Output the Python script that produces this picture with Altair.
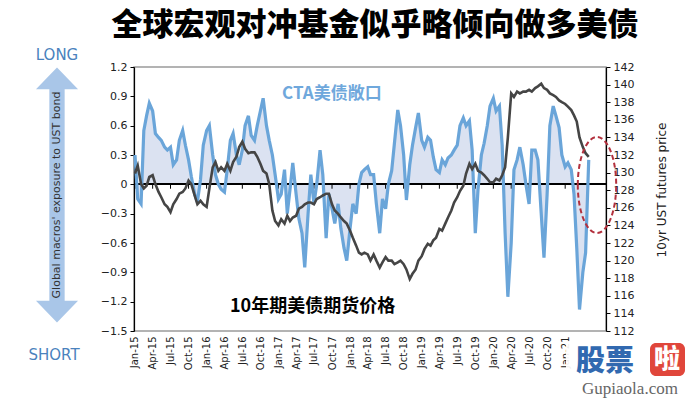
import altair as alt
import pandas as pd

# ---- data (semi-monthly, Jan 2015 - May 2021) ----
cta = [
    0.30, -0.15, -0.20, 0.55, 0.70, 0.83, 0.75, 0.52, 0.48, 0.45,
    0.38, 0.35, 0.38, 0.20, 0.25, 0.45, 0.55, 0.40, 0.25, 0.08,
    -0.10, -0.18, 0.05, 0.40, 0.55, 0.60, 0.30, 0.10, 0.00, -0.05,
    -0.08, 0.15, 0.45, 0.52, 0.30, 0.20, 0.35, 0.60, 0.70, 0.50,
    0.45, 0.60, 0.75, 0.88, 0.60, 0.45, 0.30, 0.10, -0.15, -0.10,
    0.15, -0.30, -0.05, 0.22, -0.10, -0.35, -0.50, -0.85, -0.30, 0.10,
    -0.20, 0.00, 0.35, 0.10, -0.55, -0.10, -0.25, -0.40, -0.20, -0.45,
    -0.65, -0.78, -0.45, -0.20, -0.30, 0.00, 0.12, 0.15, 0.18, 0.10,
    0.10, -0.20, -0.50, -0.15, -0.25, 0.00, 0.14, 0.42, 0.76, 0.60,
    0.30, -0.16, 0.20, 0.40, 0.58, 0.73, 0.45, 0.38, 0.48, 0.45,
    0.28, 0.15, 0.12, 0.25, 0.20, 0.27, 0.30, 0.35, 0.40, 0.60,
    0.68, 0.60, 0.65, 0.35, -0.50, -0.05, 0.30, 0.42, 0.60, 0.80,
    0.88, 0.75, 0.80, 0.40, -0.50, -1.15, -0.60, 0.15, 0.25, 0.38,
    0.20, 0.00, -0.20, 0.35, 0.35, 0.25, -0.30, -0.75, -0.10, 0.60,
    0.80, 0.70, 0.58, 0.30, 0.18, 0.22, 0.15, -0.10, -0.65, -1.28,
    -0.90, -0.70, 0.25,
]
price = [
    129.9, 130.8, 128.7, 128.2, 128.5, 129.5, 129.7, 128.7, 127.8, 127.2,
    126.4, 126.1, 125.5, 126.4, 127.0, 127.6, 127.8, 128.2, 129.1, 128.7,
    127.4, 126.4, 126.8, 126.4, 126.1, 128.2, 130.6, 131.2, 130.2, 130.6,
    130.2, 131.0, 130.2, 131.2, 131.8, 132.9, 133.5, 132.7, 132.2, 132.3,
    132.3, 131.8, 131.0, 130.2, 129.9, 128.7, 125.7, 124.5, 124.0, 124.7,
    124.2, 125.1, 124.5, 124.9, 125.1, 125.9, 126.1, 126.4, 126.6, 126.6,
    126.4, 127.0, 127.2, 127.4, 127.6, 127.6, 126.4, 125.7, 125.3, 124.9,
    124.5, 124.2, 123.4, 122.6, 121.7, 120.9, 120.7, 120.9, 120.7, 120.0,
    120.7, 120.0, 119.2, 119.8, 120.4, 120.0, 120.0, 119.6, 119.8, 120.0,
    119.6, 119.0, 117.9, 118.5, 119.0, 120.0, 120.5, 121.3, 121.9, 121.7,
    122.3, 122.6, 123.6, 123.4, 124.2, 124.9, 125.7, 126.6, 127.2, 127.9,
    128.5, 129.9, 131.0, 130.4, 131.0, 130.2, 130.0, 129.7, 129.3, 128.9,
    128.9, 129.3, 129.1, 129.7, 130.6, 134.0, 139.0, 138.6, 139.2, 139.0,
    139.2, 139.2, 139.4, 139.2, 139.6, 139.8, 140.1, 139.6, 139.4, 139.0,
    138.8, 138.6, 138.2, 138.0, 137.8, 137.5, 137.1, 136.5, 135.8, 134.0,
    132.9, 132.2, 131.8,
]
dates = pd.date_range("2015-01-01", periods=len(cta), freq="SMS").strftime("%Y-%m-%d")

left_ticks = [-1.5, -1.2, -0.9, -0.6, -0.3, 0, 0.3, 0.6, 0.9, 1.2]
right_ticks = list(range(112, 143, 2))
quarter_years = [2015, 2016, 2017, 2018, 2019, 2020, 2021]
quarter_months = [1, 4, 7, 10]

title_text = "全球宏观对冲基金似乎略倾向做多美债"
cta_label = "CTA美债敞口"
price_label = "10年期美债期货价格"
left_axis_title = "Global macros' exposure to UST bond"
right_axis_title = "10yr UST futures price"

df = pd.DataFrame({"date": dates, "cta": cta, "price": price})
qdates = [f"{y}-{m:02d}-01" for y in quarter_years for m in quarter_months if not (y == 2021 and m > 1)]
qdf = pd.DataFrame({"date": qdates, "zero": [0.0] * len(qdates), "tick": [-0.045] * len(qdates)})

x_dom = [alt.DateTime(year=2014, month=12, date=27), alt.DateTime(year=2021, month=7, date=28)]
x_vals = [alt.DateTime(year=int(d[:4]), month=int(d[5:7]), date=1) for d in qdates]

FONT = "DejaVu Sans"
CJK = "Noto Sans CJK SC"

x_enc = alt.X(
    "date:T",
    scale=alt.Scale(domain=x_dom),
    axis=alt.Axis(
        values=x_vals, format="%b-%y", labelAngle=270, labelFont=FONT, labelFontSize=10,
        labelColor="#222", ticks=False, domain=False,
        grid=False, title=None, labelPadding=5, labelOverlap=False,
    ),
)

yl_scale = alt.Scale(domain=[-1.5, 1.2], nice=False, zero=False)
yr_scale = alt.Scale(domain=[112, 142], nice=False, zero=False)
yl_axis = alt.Axis(
    values=left_ticks, labelExpr="datum.value == 0 ? '0' : format(datum.value, '.1f')",
    labelFont=FONT, labelFontSize=11, labelColor="#222", tickSize=4, tickColor="#000",
    domainColor="#000", domainWidth=1.2, grid=False, title=None, labelPadding=3,
    labelOverlap=False,
)

area = alt.Chart(df).mark_area(color="#dbe2f1", opacity=1).encode(
    x=x_enc,
    y=alt.Y("cta:Q", scale=yl_scale, axis=yl_axis),
    y2=alt.datum(0),
)
blue_line = alt.Chart(df).mark_line(color="#6aa5d9", strokeWidth=3.2).encode(
    x=x_enc, y=alt.Y("cta:Q", scale=yl_scale, axis=yl_axis)
)
zero_rule = alt.Chart(qdf).mark_rule(color="#000", strokeWidth=1).encode(
    y=alt.Y("zero:Q", scale=yl_scale, axis=yl_axis)
)
zero_ticks = alt.Chart(qdf).mark_rule(color="#000", strokeWidth=1).encode(
    x=x_enc, y=alt.Y("zero:Q", scale=yl_scale, axis=yl_axis), y2="tick:Q"
)

def txt(t, x, y, **kw):
    return alt.Chart(pd.DataFrame({"t": [t]})).mark_text(**kw).encode(
        x=alt.value(x), y=alt.value(y), text="t:N"
    )

title = txt(title_text, 241, -41, font=CJK, fontSize=31, fontWeight=900, color="#000",
            align="center", baseline="middle")
cta_t = txt(cta_label, 148, 27, font=CJK, fontSize=17, fontWeight="bold", color="#6fa8dc",
            align="left", baseline="middle")
price_t = txt(price_label, 96, 240, font=CJK, fontSize=18, fontWeight="bold", color="#000",
              align="left", baseline="middle")
long_t = txt("LONG", -77, -12, font=FONT, fontSize=15, color="#4a82bd", align="center", baseline="middle")
short_t = txt("SHORT", -80, 288, font=FONT, fontSize=15, color="#4a82bd", align="center", baseline="middle")

arrow_path = ("M 0 -1 L 0.165 -0.83 L 0.06 -0.83 L 0.06 0.83 L 0.165 0.83 L 0 1 "
              "L -0.165 0.83 L -0.06 0.83 L -0.06 -0.83 L -0.165 -0.83 Z")
arrow = alt.Chart(pd.DataFrame({"a": [1]})).mark_point(
    shape=arrow_path, filled=True, color="#a9c6e8", opacity=1, size=65025, strokeWidth=0
).encode(x=alt.value(-77), y=alt.value(128))
arrow_t = txt(left_axis_title, -77, 128, font=FONT, fontSize=11, color="#333", angle=270,
              align="center", baseline="middle")
right_t = txt(right_axis_title, 528, 123, font=FONT, fontSize=12, color="#222", angle=270,
              align="center", baseline="middle")

ellipse_path = "M -0.4 0 A 0.4 1 0 1 1 0.4 0 A 0.4 1 0 1 1 -0.4 0 Z"
ellipse = alt.Chart(pd.DataFrame({"a": [1]})).mark_point(
    shape=ellipse_path, filled=False, color="#b3313e", size=9216, strokeWidth=2,
    strokeDash=[5, 3], opacity=1
).encode(x=alt.value(463), y=alt.value(118))

wm_bg = alt.Chart(pd.DataFrame({"a": [1]})).mark_rect(color="#fff", opacity=0.92).encode(
    x=alt.value(432), x2=alt.value(554), y=alt.value(274), y2=alt.value(334)
)
wm_red = alt.Chart(pd.DataFrame({"a": [1]})).mark_rect(color="#e0463b", cornerRadius=6).encode(
    x=alt.value(516), x2=alt.value(551), y=alt.value(276), y2=alt.value(309)
)
wm1 = txt("股票", 442, 295, font=CJK, fontSize=29, fontWeight=900, color="#3169b0",
          align="left", baseline="middle")
wm2 = txt("啦", 533, 293, font=CJK, fontSize=26, fontWeight=900, color="#fff",
          align="center", baseline="middle")
wm3 = txt("Gupiaola.com", 496, 322, font="Liberation Serif", fontSize=17, color="#666",
          align="center", baseline="middle")

left_group = alt.layer(area, zero_rule, zero_ticks, blue_line)

gray_line = alt.Chart(df).mark_line(color="#454545", strokeWidth=2.6).encode(
    x=x_enc,
    y=alt.Y(
        "price:Q", scale=yr_scale,
        axis=alt.Axis(
            orient="right", values=right_ticks, labelFont=FONT, labelFontSize=11,
            labelColor="#222", tickSize=4, tickColor="#000", domainColor="#000",
            domainWidth=1.2, grid=False, title=None, labelPadding=3, labelOverlap=False,
        ),
    ),
)

annotations = alt.layer(title, cta_t, price_t, long_t, short_t, arrow, arrow_t, right_t,
                        ellipse, wm_bg, wm_red, wm1, wm2, wm3)

chart = alt.layer(left_group, gray_line, annotations).resolve_scale(y="independent").properties(
    width=472, height=264,
    autosize=alt.AutoSizeParams(type="none"),
    padding={"left": 134, "top": 67, "right": 82, "bottom": 70},
    background="#ffffff",
).configure_view(stroke="#9a9a9a", strokeWidth=1.5).configure_axis(labelOverlap=False)

chart.save("out.html", embed_options={"renderer": "svg", "actions": False})
